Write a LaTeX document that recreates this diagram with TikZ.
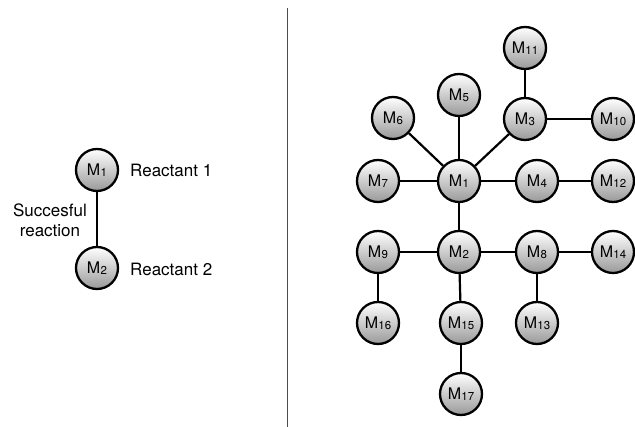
\documentclass[tikz,border=0pt]{standalone}
\usepackage{fontspec}
\setmainfont{TeX Gyre Heros}
\newcommand{\mol}[1]{M\kern0.02em\raisebox{-0.08em}{\fontsize{11.5}{11.5}\selectfont #1}}
\begin{document}
\begin{tikzpicture}[x=1pt,y=-1pt,
  mnode/.style={circle,draw=black,line width=2.3pt,minimum size=42pt,inner sep=0pt,
    top color=white,bottom color=black!40,font=\fontsize{16}{16}\selectfont},
  link/.style={line width=2.2pt,draw=black},
  lbl/.style={font=\fontsize{17}{20}\selectfont,inner sep=0pt}]
\useasboundingbox (0,0) rectangle (635,427);
% divider
\draw[line width=1.2pt,draw=black!70] (287.5,8) coordinate (dtop) -- (287.5,427) coordinate (dbot);
% left side
\node[mnode] (L1) at (97,170) {\mol{1}};
\node[mnode] (L2) at (97,268) {\mol{2}};
\draw[link] (L1) -- (L2);
\node[lbl,anchor=west] (r1) at (130,170) {Reactant 1};
\node[lbl,anchor=west] (r2) at (130,269) {Reactant 2};
\node[lbl,align=center] (sr) at (50,220) {Succesful\\reaction};
% right side
\node[mnode] (M11) at (525,48) {\mol{11}};
\node[mnode] (M5) at (459,95) {\mol{5}};
\node[mnode] (M6) at (393,118) {\mol{6}};
\node[mnode] (M3) at (525,119) {\mol{3}};
\node[mnode] (M10) at (613,119) {\mol{10}};
\node[mnode] (M7) at (378,181) {\mol{7}};
\node[mnode] (M1) at (459,181) {\mol{1}};
\node[mnode] (M4) at (537,181) {\mol{4}};
\node[mnode] (M12) at (613,181) {\mol{12}};
\node[mnode] (M9) at (378,252) {\mol{9}};
\node[mnode] (M2) at (459,252) {\mol{2}};
\node[mnode] (M8) at (537,252) {\mol{8}};
\node[mnode] (M14) at (613,252) {\mol{14}};
\node[mnode] (M16) at (378,323) {\mol{16}};
\node[mnode] (M15) at (461,323) {\mol{15}};
\node[mnode] (M13) at (537,323) {\mol{13}};
\node[mnode] (M17) at (461,394) {\mol{17}};
\foreach \a/\b in {M11/M3,M3/M10,M3/M1,M5/M1,M6/M1,M7/M1,M1/M4,M4/M12,M1/M2,M9/M2,M2/M8,M8/M14,M9/M16,M2/M15,M8/M13,M15/M17}
  \draw[link] (\a) -- (\b);
\end{tikzpicture}
\end{document}
